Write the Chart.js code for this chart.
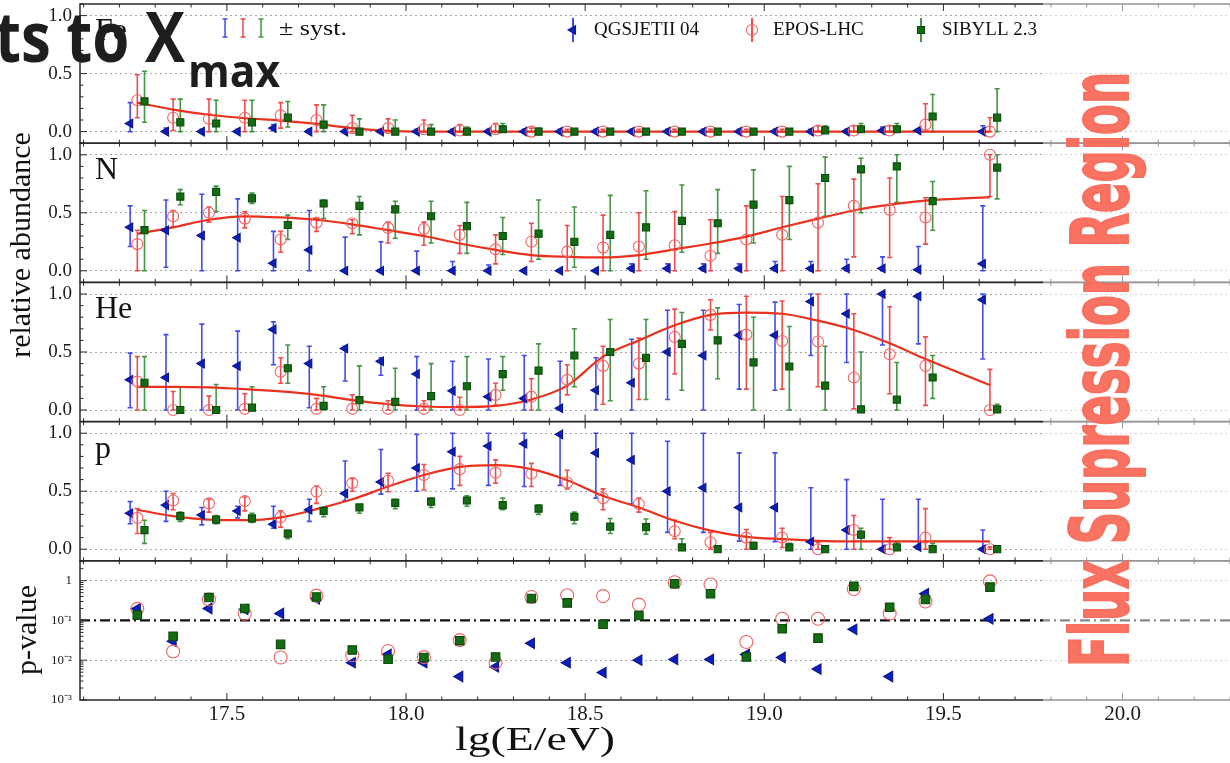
<!DOCTYPE html>
<html>
<head>
<meta charset="utf-8">
<script src="https://cdn.jsdelivr.net/npm/chart.js@4.4.1/dist/chart.umd.min.js"></script>
<style>
  html, body { margin: 0; padding: 0; background: #fff; overflow: hidden; }
  #grafico { display: block; }
</style>
</head>
<body>
<canvas id="grafico" width="1230" height="763" style="width:1230px;height:763px"></canvas>
<script>
// bins de energia lg(E/eV)
const binsEnergia = [17.25,17.35,17.45,17.55,17.65,17.75, 17.85,17.95,18.05,18.15,18.25,18.35, 18.45,18.55,18.65,18.75,18.85,18.95, 19.05,19.15,19.25,19.35,19.45,19.63];

// Fe
const feQgs    = [0.07,0,0,0,0.03,0, 0,0,0,0,0,0, 0,0,0,0,0,0, 0,0,0,0.01,0.01,0];
const feQgsLo  = [0,0,0,0,0.01,0, 0,0,0,0,0,0, 0,0,0,0,0,0, 0,0,0,0,0,0];
const feQgsHi  = [0.25,0.03,0.02,0.02,0.06,0.02, 0.02,0.02,0.02,0.02,0.02,0.02, 0.02,0.02,0.02,0.02,0.02,0.02, 0.02,0.02,0.02,0.04,0.02,0.05];
const feEpos   = [0.27,0.12,0.11,0.12,0.14,0.1, 0.03,0.03,0.02,0.01,0.02,0, 0,0,0,0,0,0, 0,0.01,0.01,0.01,0.06,0];
const feEposLo = [0.12,0.01,0,0,0.03,0, 0,0,0,0,0,0, 0,0,0,0,0,0, 0,0,0,0,0,0];
const feEposHi = [0.49,0.28,0.28,0.27,0.25,0.23, 0.14,0.11,0.1,0.06,0.07,0.03, 0.02,0.02,0.02,0.02,0.02,0.02, 0.02,0.05,0.05,0.05,0.24,0.12];
const feSib    = [0.26,0.08,0.07,0.08,0.12,0.06, 0,0,0,0,0.02,0, 0,0,0,0,0,0, 0,0.01,0.02,0.02,0.13,0.12];
const feSibLo  = [0.08,0,0,0,0.04,0, 0,0,0,0,0,0, 0,0,0,0,0,0, 0,0,0,0,0,0];
const feSibHi  = [0.52,0.28,0.27,0.27,0.26,0.23, 0.11,0.1,0.06,0.04,0.07,0.03, 0.02,0.02,0.02,0.02,0.02,0.02, 0.02,0.05,0.07,0.07,0.32,0.37];
const feFit    = [0.25,0.19,0.145,0.115,0.095,0.066, 0.03,0.006,0,0,0,0, 0,0,0,0,0,0, 0,0,0,0,0,0];

// N
const nQgs    = [0.375,0.35,0.305,0.285,0.065,0.18, 0,0,0,0,0,0, 0,0,0.02,0.02,0.02,0.02, 0.02,0.02,0.02,0.02,0.01,0.06];
const nQgsLo  = [0.21,0.03,0,0,0,0, 0,0,0,0,0,0, 0,0,0,0,0,0, 0,0,0,0,0,0];
const nQgsHi  = [0.56,0.61,0.66,0.62,0.34,0.52, 0.29,0.25,0.17,0.08,0.05,0, 0,0,0.06,0.06,0.06,0.06, 0.08,0.08,0.1,0.12,0.21,0.56];
const nEpos   = [0.23,0.47,0.5,0.45,0.27,0.415, 0.41,0.37,0.36,0.31,0.185,0.25, 0.165,0.2,0.21,0.22,0.13,0.27, 0.31,0.415,0.56,0.525,0.46,1.0];
const nEposLo = [0,0.38,0.42,0.37,0.16,0.34, 0.32,0.24,0.22,0.15,0.06,0.08, 0,0,0,0,0,0, 0,0,0.12,0.115,0.23,0.64];
const nEposHi = [0.35,0.52,0.55,0.51,0.34,0.45, 0.44,0.42,0.42,0.39,0.31,0.41, 0.39,0.48,0.5,0.51,0.44,0.56, 0.64,0.75,0.79,0.8,0.63,1.0];
const nSib    = [0.35,0.64,0.68,0.625,0.395,0.58, 0.56,0.53,0.47,0.385,0.3,0.32, 0.25,0.31,0.375,0.43,0.41,0.57, 0.61,0.8,0.875,0.9,0.6,0.89];
const nSibLo  = [0,0.57,0.51,0.58,0.27,0.45, 0.31,0.28,0.24,0.15,0.14,0.1, 0.03,0,0.1,0.16,0.15,0.24, 0.27,0.47,0.5,0.59,0.35,0.62];
const nSibHi  = [0.52,0.7,0.73,0.67,0.48,0.61, 0.64,0.6,0.6,0.59,0.46,0.61, 0.55,0.65,0.69,0.74,0.7,0.87, 0.9,0.98,0.97,1.0,0.77,1.0];
const nFit    = [0.32,0.375,0.44,0.47,0.46,0.44, 0.4,0.35,0.3,0.235,0.18,0.135, 0.12,0.115,0.135,0.185,0.235,0.295, 0.375,0.45,0.52,0.57,0.605,0.635];

// He
const heQgs    = [0.26,0.28,0.4,0.38,0.695,0.4, 0.53,0.42,0.31,0.165,0.115,0.1, 0.015,0.17,0.235,0.5,0.47,0.645, 0.645,0.935,0.83,1.0,0.98,0.95];
const heQgsLo  = [0.02,0,0,0,0.39,0.02, 0.25,0.3,0,0,0,0, 0,0,0,0.09,0,0.18, 0.17,0.47,0.41,0.56,0.57,0.44];
const heQgsHi  = [0.49,0.65,0.74,0.68,0.76,0.55, 0.55,0.45,0.46,0.42,0.44,0.47, 0.42,0.45,0.61,0.86,0.86,0.91, 0.93,1.0,1.0,1.0,1.0,1.0];
const heEpos   = [0.245,0,0,0.01,0.33,0.01, 0.01,0.01,0.01,0,0.13,0.115, 0.26,0.38,0.4,0.63,0.82,0.65, 0.595,0.59,0.28,0.48,0.38,0];
const heEposLo = [0,0,0,0,0.23,0, 0,0,0,0,0.04,0, 0.13,0.05,0.09,0.31,0.69,0.18, 0.18,0.2,0.01,0.14,0.04,0];
const heEposHi = [0.46,0.16,0.12,0.14,0.45,0.1, 0.13,0.08,0.08,0.11,0.23,0.27, 0.39,0.55,0.62,0.87,0.95,0.98, 0.94,1.0,0.83,0.89,0.63,0.35];
const heSib    = [0.235,0,0,0.02,0.36,0.035, 0.085,0.07,0.12,0.205,0.31,0.34, 0.47,0.5,0.45,0.57,0.6,0.41, 0.375,0.21,0.005,0.09,0.28,0.005];
const heSibLo  = [0,0,0,0,0.23,0, 0,0,0,0,0.17,0, 0.2,0.08,0.09,0.17,0.27,0, 0,0,0,0,0.1,0];
const heSibHi  = [0.46,0.2,0.22,0.2,0.56,0.2, 0.38,0.36,0.4,0.46,0.46,0.57, 0.7,0.78,0.78,0.84,0.88,0.8, 0.72,0.55,0.5,0.41,0.47,0.05];
const heFit    = [0.2,0.2,0.195,0.18,0.16,0.13, 0.085,0.05,0.03,0.025,0.035,0.09, 0.21,0.46,0.6,0.73,0.82,0.84, 0.83,0.77,0.69,0.575,0.44,0.215];

// p
const pQgs    = [0.31,0.38,0.295,0.33,0.215,0.34, 0.48,0.58,0.7,0.84,0.89,0.91, 0.99,0.83,0.77,0.5,0.53,0.36, 0.36,0.065,0.165,0,0.02,0];
const pQgsLo  = [0.22,0.24,0.21,0.27,0.18,0.24, 0.42,0.475,0.5,0.52,0.55,0.54, 0.55,0.44,0.39,0.145,0.145,0.07, 0.065,0,0,0,0,0];
const pQgsHi  = [0.41,0.5,0.36,0.37,0.37,0.43, 0.76,0.86,0.99,1.0,1.0,1.0, 1.0,1.0,1.0,0.93,1.0,0.83, 0.83,0.53,0.6,0.43,0.43,0.165];
const pEpos   = [0.27,0.42,0.395,0.415,0.275,0.495, 0.57,0.59,0.64,0.69,0.66,0.65, 0.575,0.44,0.39,0.155,0.06,0.1, 0.1,0,0.165,0,0.1,0];
const pEposLo = [0.135,0.34,0.32,0.33,0.19,0.395, 0.5,0.495,0.51,0.55,0.57,0.54, 0.52,0.34,0.32,0.09,0,0, 0.015,0,0,0,0,0];
const pEposHi = [0.35,0.48,0.43,0.45,0.33,0.545, 0.61,0.655,0.73,0.8,0.77,0.74, 0.68,0.52,0.44,0.25,0.145,0.17, 0.18,0.06,0.29,0.1,0.35,0.02];
const pSib    = [0.165,0.285,0.255,0.265,0.135,0.33, 0.36,0.4,0.41,0.42,0.38,0.35, 0.28,0.195,0.19,0.015,0,0.03, 0.015,0,0.125,0.015,0,0];
const pSibLo  = [0.05,0.24,0.22,0.23,0.09,0.28, 0.31,0.35,0.36,0.37,0.34,0.3, 0.22,0.135,0.13,0,0,0, 0,0,0,0,0,0];
const pSibHi  = [0.25,0.32,0.29,0.31,0.16,0.35, 0.38,0.43,0.44,0.46,0.44,0.38, 0.32,0.265,0.26,0.09,0.03,0.06, 0.05,0.03,0.18,0.06,0.05,0.01];
const pFit    = [0.34,0.285,0.255,0.25,0.275,0.345, 0.43,0.54,0.64,0.71,0.725,0.69, 0.595,0.46,0.36,0.245,0.16,0.107, 0.087,0.072,0.067,0.067,0.067,0.067];

// p-value
const pvQgs  = [0.196,0.03,0.2,0.19,0.15,0.35, 0.0087,0.014,0.0087,0.0039,0.0068,0.0266, 0.0087,0.0049,0.01,0.0105,0.0105,0.014, 0.0117,0.006,0.06,0.0039,0.47,0.11];
const pvEpos = [0.196,0.0166,0.335,0.147,0.0117,0.42, 0.0133,0.017,0.012,0.032,0.0087,0.39, 0.43,0.41,0.25,0.91,0.8,0.0287, 0.11,0.11,0.62,0.15,0.3,0.96];
const pvSib  = [0.136,0.04,0.376,0.2,0.025,0.39, 0.018,0.0106,0.0117,0.031,0.012,0.355, 0.276,0.08,0.133,0.84,0.47,0.012, 0.062,0.036,0.72,0.215,0.335,0.69];
const pLimiar = 0.1;

// eixos e rótulos
const limX = [17.09, 20.3];
const ticksX = [17.5, 18.0, 18.5, 19.0, 19.5, 20.0];
const limAbund = [-0.1, 1.1];
const ticksAbund = [0, 0.5, 1.0];
const limPval = [1e-3, 3.16];
const ticksPval = [1e-3, 1e-2, 1e-1, 1];
const rotulosPval = ['10\u207B\u00B3', '10\u207B\u00B2', '10\u207B\u00B9', '1'];
const gradePval = [1e-2, 1];

const fonteSerif = '"Liberation Serif", "Times New Roman", serif';

const estilos = {
  qgs:  { nome: 'QGSJETII 04', ponto: 'triangle', rot: -90, raio: 5, fundo: '#0d1fb8', borda: '#0a168f', barra: 'rgba(35,45,235,0.85)', desloc: -0.02, ordem: 3 },
  epos: { nome: 'EPOS-LHC', ponto: 'circle', rot: 0, raio: 5.5, fundo: 'rgba(0,0,0,0)', borda: '#f06464', barra: 'rgba(240,45,45,0.85)', desloc: 0, ordem: 2 },
  sib:  { nome: 'SIBYLL 2.3', ponto: 'rect', rot: 0, raio: 5, fundo: '#136b13', borda: '#0b4a0b', barra: 'rgba(35,130,35,0.85)', desloc: 0.02, ordem: 1 }
};

function serieModelo(eixo, modelo, valores, lo, hi) {
  const e = estilos[modelo];
  return {
    type: 'scatter', yAxisID: eixo, order: e.ordem,
    data: binsEnergia.map((x, i) => ({ x: x + e.desloc, y: valores[i] })),
    errLo: lo, errHi: hi, corBarra: e.barra,
    pointStyle: e.ponto, rotation: e.rot, pointRadius: e.raio,
    backgroundColor: e.fundo, borderColor: e.borda, borderWidth: 1.1
  };
}

function serieAjuste(eixo, valores) {
  return {
    type: 'line', yAxisID: eixo, order: 4,
    data: binsEnergia.map((x, i) => ({ x, y: valores[i] })),
    borderColor: '#e8321e', borderWidth: 2.2, pointRadius: 0,
    cubicInterpolationMode: 'monotone', fill: false
  };
}

function seriePval(modelo, valores) {
  const e = estilos[modelo];
  return {
    type: 'scatter', yAxisID: 'yPval', order: e.ordem,
    data: binsEnergia.map((x, i) => ({ x, y: valores[i] })),
    pointStyle: e.ponto, rotation: e.rot, pointRadius: e.raio + 1,
    backgroundColor: e.fundo, borderColor: e.borda, borderWidth: 1.1
  };
}

const datasets = [
  serieAjuste('yFe', feFit),
  serieModelo('yFe', 'qgs', feQgs, feQgsLo, feQgsHi),
  serieModelo('yFe', 'epos', feEpos, feEposLo, feEposHi),
  serieModelo('yFe', 'sib', feSib, feSibLo, feSibHi),
  serieAjuste('yN', nFit),
  serieModelo('yN', 'qgs', nQgs, nQgsLo, nQgsHi),
  serieModelo('yN', 'epos', nEpos, nEposLo, nEposHi),
  serieModelo('yN', 'sib', nSib, nSibLo, nSibHi),
  serieAjuste('yHe', heFit),
  serieModelo('yHe', 'qgs', heQgs, heQgsLo, heQgsHi),
  serieModelo('yHe', 'epos', heEpos, heEposLo, heEposHi),
  serieModelo('yHe', 'sib', heSib, heSibLo, heSibHi),
  serieAjuste('yP', pFit),
  serieModelo('yP', 'qgs', pQgs, pQgsLo, pQgsHi),
  serieModelo('yP', 'epos', pEpos, pEposLo, pEposHi),
  serieModelo('yP', 'sib', pSib, pSibLo, pSibHi),
  seriePval('qgs', pvQgs),
  seriePval('epos', pvEpos),
  seriePval('sib', pvSib)
];

// sem padding automático: os painéis ficam colados
function semPadding(s) {
  s.paddingTop = 0; s.paddingBottom = 0; s.paddingLeft = 0; s.paddingRight = 0;
}

function escalaAbundancia(peso) {
  return {
    type: 'linear', position: 'left', stack: 'paineis', stackWeight: 1, weight: peso,
    min: limAbund[0], max: limAbund[1],
    afterBuildTicks: s => { s.ticks = ticksAbund.map(v => ({ value: v })); },
    afterFit: s => { s.width = 80; semPadding(s); },
    ticks: { font: { family: fonteSerif, size: 19 }, color: '#1a1a1a', padding: 8, callback: v => Number(v).toFixed(1) },
    grid: { color: '#a8a8a8', lineWidth: 1, drawTicks: false },
    border: { display: false, dash: [2, 3] }
  };
}

const paineis = [['yFe', 'Fe'], ['yN', 'N'], ['yHe', 'He'], ['yP', 'p']];

// texto esticado na horizontal até a largura pedida
function textoLargura(ctx, texto, x, y, largura, alinhar) {
  const w = ctx.measureText(texto).width;
  ctx.save();
  ctx.translate(x, y);
  ctx.scale(largura / w, 1);
  ctx.textAlign = alinhar;
  ctx.fillText(texto, 0, 0);
  ctx.restore();
}

const pluginFigura = {
  id: 'figura',
  beforeDatasetsDraw(chart) {
    const ctx = chart.ctx;
    const area = chart.chartArea;
    // barras de erro
    chart.data.datasets.forEach((ds, i) => {
      if (!ds.errLo) return;
      const meta = chart.getDatasetMeta(i);
      const ys = chart.scales[ds.yAxisID];
      ctx.save();
      ctx.strokeStyle = ds.corBarra;
      ctx.lineWidth = 1.6;
      meta.data.forEach((pt, j) => {
        const yLo = ys.getPixelForValue(ds.errLo[j]);
        const yHi = ys.getPixelForValue(ds.errHi[j]);
        if (Math.abs(yLo - yHi) < 1) return;
        ctx.beginPath();
        ctx.moveTo(pt.x, yLo); ctx.lineTo(pt.x, yHi);
        ctx.moveTo(pt.x - 2.5, yHi); ctx.lineTo(pt.x + 2.5, yHi);
        ctx.moveTo(pt.x - 2.5, yLo); ctx.lineTo(pt.x + 2.5, yLo);
        ctx.stroke();
      });
      ctx.restore();
    });
    // linha p = 0.1
    const yp = chart.scales.yPval.getPixelForValue(pLimiar);
    ctx.save();
    ctx.strokeStyle = '#111';
    ctx.lineWidth = 2.2;
    ctx.setLineDash([10, 4, 2, 4]);
    ctx.beginPath();
    ctx.moveTo(area.left, yp); ctx.lineTo(area.right, yp);
    ctx.stroke();
    ctx.restore();
  },
  afterDraw(chart) {
    const ctx = chart.ctx;
    const area = chart.chartArea;
    const xs = chart.scales.x;
    const ids = ['yFe', 'yN', 'yHe', 'yP', 'yPval'];
    ctx.save();
    ctx.strokeStyle = '#2a2a2a';
    ids.forEach(id => {
      const s = chart.scales[id];
      ctx.lineWidth = 1.5;
      ctx.strokeRect(area.left, s.top, area.right - area.left + 4, s.bottom - s.top);
      // ticks do eixo x (para dentro)
      ctx.beginPath();
      for (let k = Math.ceil(xs.min * 10); k <= Math.floor(xs.max * 10); k++) {
        const px = xs.getPixelForValue(k / 10);
        const len = k % 5 === 0 ? 7 : 3.5;
        ctx.moveTo(px, s.top); ctx.lineTo(px, s.top + len);
        ctx.moveTo(px, s.bottom); ctx.lineTo(px, s.bottom - len);
      }
      // ticks do eixo y
      if (id === 'yPval') {
        for (let e = -3; e <= 0; e++) {
          for (let m = 1; m <= 9; m++) {
            const v = m * Math.pow(10, e);
            if (v < s.min || v > s.max) continue;
            const py = s.getPixelForValue(v);
            const len = m === 1 ? 7 : 3.5;
            ctx.moveTo(area.left, py); ctx.lineTo(area.left + len, py);
          }
        }
      } else {
        for (let k = -1; k <= 11; k++) {
          const py = s.getPixelForValue(k / 10);
          const len = k % 5 === 0 ? 7 : 3.5;
          ctx.moveTo(area.left, py); ctx.lineTo(area.left + len, py);
        }
      }
      ctx.lineWidth = 1;
      ctx.stroke();
    });
    ctx.restore();

    // nomes dos painéis
    ctx.save();
    ctx.fillStyle = '#111';
    ctx.font = '32px ' + fonteSerif;
    ctx.textAlign = 'left';
    ctx.textBaseline = 'alphabetic';
    paineis.forEach(([id, nome]) => {
      ctx.fillText(nome, area.left + 15, chart.scales[id].top + 36);
    });

    // títulos dos eixos
    ctx.font = '30px ' + fonteSerif;
    ctx.textAlign = 'center';
    ctx.textBaseline = 'middle';
    ctx.save();
    ctx.translate(22, 245); ctx.rotate(-Math.PI / 2);
    ctx.fillText('relative abundance', 0, 0);
    ctx.restore();
    ctx.save();
    ctx.translate(28, 630); ctx.rotate(-Math.PI / 2);
    ctx.fillText('p-value', 0, 0);
    ctx.restore();
    ctx.font = '34px ' + fonteSerif;
    textoLargura(ctx, 'lg(E/eV)', 535, 741, 160, 'center');

    // legenda
    ctx.textAlign = 'left';
    ctx.font = '19px ' + fonteSerif;
    [['qgs', 573], ['epos', 752], ['sib', 921]].forEach(([m, x]) => {
      const e = estilos[m];
      ctx.strokeStyle = e.barra;
      ctx.lineWidth = 2;
      ctx.beginPath(); ctx.moveTo(x, 18); ctx.lineTo(x, 42); ctx.stroke();
      ctx.fillStyle = e.fundo;
      ctx.strokeStyle = e.borda;
      ctx.lineWidth = 1.1;
      Chart.helpers.drawPoint(ctx, { pointStyle: e.ponto, rotation: e.rot, radius: e.raio, borderWidth: 1.1 }, x, 30);
      ctx.fillStyle = '#111';
      ctx.fillText(e.nome, x + 21, 30);
    });
    [['qgs', 225], ['epos', 243], ['sib', 261]].forEach(([m, x]) => {
      ctx.strokeStyle = estilos[m].barra;
      ctx.lineWidth = 1.5;
      ctx.beginPath();
      ctx.moveTo(x, 19); ctx.lineTo(x, 37);
      ctx.moveTo(x - 2.5, 19); ctx.lineTo(x + 2.5, 19);
      ctx.moveTo(x - 2.5, 37); ctx.lineTo(x + 2.5, 37);
      ctx.stroke();
    });
    ctx.fillStyle = '#111';
    ctx.font = '22px ' + fonteSerif;
    textoLargura(ctx, '\u00B1 syst.', 279, 29, 68, 'left');

    // região de supressão do fluxo
    ctx.fillStyle = 'rgba(255,255,255,0.5)';
    ctx.fillRect(1043, 0, 190, 703);
    ctx.save();
    ctx.font = 'bold 80px "DejaVu Sans Condensed", "DejaVu Sans", sans-serif';
    const texto = 'Flux Supression Region';
    const w = ctx.measureText(texto).width;
    ctx.translate(1128, 667);
    ctx.rotate(-Math.PI / 2);
    ctx.scale(595 / w, 1);
    ctx.fillStyle = 'rgba(250,106,90,0.95)';
    ctx.strokeStyle = 'rgba(250,106,90,0.95)';
    ctx.lineWidth = 2;
    ctx.textBaseline = 'alphabetic';
    ctx.fillText(texto, 0, 0);
    ctx.strokeText(texto, 0, 0);
    ctx.restore();

    // título sobreposto
    ctx.fillStyle = '#1e1e1e';
    ctx.textBaseline = 'alphabetic';
    ctx.font = '700 70px "Open Sans", sans-serif';
    textoLargura(ctx, 'ts to X', 185, 62, 190, 'right');
    ctx.font = '700 44px "Open Sans", sans-serif';
    textoLargura(ctx, 'max', 188, 87, 92, 'left');
    ctx.restore();
  }
};

const ctx = document.getElementById('grafico').getContext('2d');
const chart = new Chart(ctx, {
  type: 'scatter',
  data: { datasets },
  options: {
    responsive: false,
    animation: false,
    devicePixelRatio: 1,
    events: [],
    layout: { autoPadding: false, padding: { top: 4, left: 0, right: 0, bottom: 0 } },
    plugins: { legend: { display: false }, tooltip: { enabled: false } },
    scales: {
      x: {
        type: 'linear', position: 'bottom', min: limX[0], max: limX[1],
        afterBuildTicks: s => { s.ticks = ticksX.map(v => ({ value: v })); },
        afterFit: s => { s.height = 63; semPadding(s); },
        ticks: { font: { family: fonteSerif, size: 21 }, color: '#1a1a1a', padding: 2, maxRotation: 0, autoSkip: false, callback: v => Number(v).toFixed(1) },
        grid: { display: false, drawTicks: false },
        border: { display: false }
      },
      yFe: escalaAbundancia(5),
      yN: escalaAbundancia(4),
      yHe: escalaAbundancia(3),
      yP: escalaAbundancia(2),
      yPval: {
        type: 'logarithmic', position: 'left', stack: 'paineis', stackWeight: 1, weight: 1,
        min: limPval[0], max: limPval[1],
        afterBuildTicks: s => { s.ticks = ticksPval.map(v => ({ value: v })); },
        afterFit: s => { s.width = 80; semPadding(s); },
        ticks: { font: { family: fonteSerif, size: 13 }, color: '#1a1a1a', padding: 8,
          callback: (v, i) => rotulosPval[i] },
        grid: { drawTicks: false, lineWidth: 1,
          color: c => (c.tick && gradePval.includes(c.tick.value)) ? '#a8a8a8' : 'rgba(0,0,0,0)' },
        border: { display: false, dash: [2, 3] }
      }
    }
  },
  plugins: [pluginFigura]
});
</script>
</body>
</html>
